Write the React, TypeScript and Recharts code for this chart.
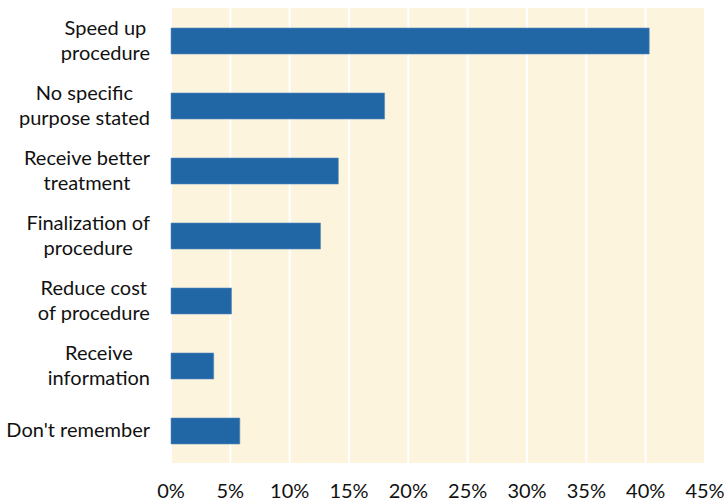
import { Bar, BarChart, CartesianGrid, XAxis, YAxis } from "recharts";

const categories = [
  "Speed up\nprocedure",
  "No specific\npurpose stated",
  "Receive better\ntreatment",
  "Finalization of\nprocedure",
  "Reduce cost\nof procedure",
  "Receive\ninformation",
  "Don't remember",
];
const shares = [40.3, 18.0, 14.1, 12.6, 5.1, 3.6, 5.8];
const xTicks = [0, 5, 10, 15, 20, 25, 30, 35, 40, 45];

const data = categories.map((c, i) => ({ name: c, value: shares[i] }));

const FONT = "Lato";
const SIZE = 20;

let ctx: CanvasRenderingContext2D | null = null;
const measure = (s: string) => {
  if (!ctx) ctx = document.createElement("canvas").getContext("2d");
  if (!ctx) return s.length * SIZE * 0.5;
  ctx.font = `${SIZE}px ${FONT}`;
  return ctx.measureText(s).width;
};

const CategoryTick = ({ x, y, payload }: any) => {
  const lines = String(payload.value).split("\n");
  const w = Math.max(...lines.map(measure));
  const cx = x - 13 - w / 2;
  return (
    <text textAnchor="middle" fontFamily={FONT} fontSize={SIZE} fill="#111">
      {lines.map((l, i) => (
        <tspan key={i} x={cx} y={y + 6.5 + (i - (lines.length - 1) / 2) * 25}>
          {l}
        </tspan>
      ))}
    </text>
  );
};

export default function App() {
  return (
    <div style={{ position: "absolute", left: 0, top: 0, background: "#fff" }}>
      <BarChart
        width={724}
        height={504}
        data={data}
        layout="vertical"
        margin={{ top: 8, right: 19, bottom: 0, left: 0 }}
      >
        <CartesianGrid
          horizontal={false}
          stroke="#ffffff"
          strokeWidth={2}
          fill="#fdf4dd"
          fillOpacity={1}
        />
        <XAxis
          type="number"
          domain={[0, 45]}
          ticks={xTicks}
          tickFormatter={(v) => `${v}%`}
          height={41}
          axisLine={false}
          tickLine={false}
          tickMargin={15}
          interval={0}
          tick={{ fill: "#111", fontSize: SIZE, fontFamily: FONT }}
        />
        <YAxis
          type="category"
          dataKey="name"
          width={171}
          axisLine={false}
          tickLine={false}
          interval={0}
          tick={<CategoryTick />}
        />
        <Bar
          dataKey="value"
          fill="#2166a5"
          stroke="#5b8cc0"
          strokeWidth={0.6}
          barSize={26}
          isAnimationActive={false}
        />
      </BarChart>
    </div>
  );
}
